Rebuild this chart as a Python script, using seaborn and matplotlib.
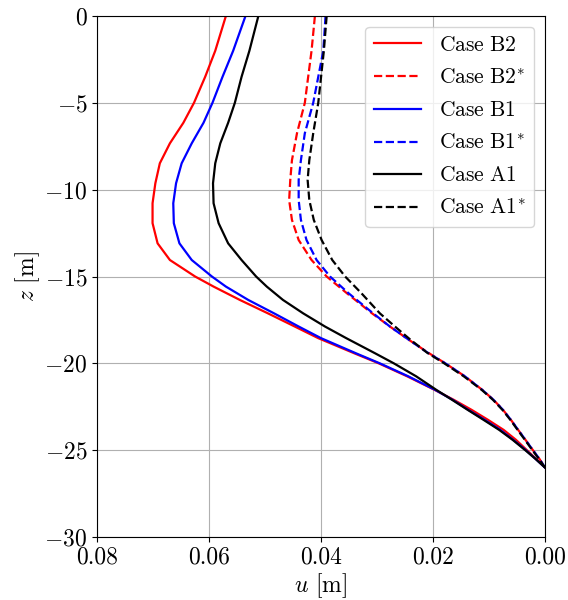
import numpy as np
import seaborn as sns
import matplotlib
matplotlib.use('Agg')
import matplotlib.pyplot as plt

# font setup (Computer Modern look)
plt.rcParams['font.family'] = 'serif'
plt.rcParams['font.serif'] = ['cmr10', 'DejaVu Serif']
plt.rcParams['mathtext.fontset'] = 'cm'
plt.rcParams['axes.formatter.use_mathtext'] = True
plt.rcParams['font.size'] = 17

# solid curves
z_solid = [0, -2, -3.5, -5, -6.15, -7.33, -8.48, -9.63, -10.78, -11.93, -13.09,
           -14.05, -15.0, -15.58, -16.35, -17.12, -17.88, -18.55, -19.43, -20.0,
           -20.75, -21.53, -22.1, -22.68, -23.25, -23.83, -24.4, -24.98, -25.5, -26]
u_b2 = [0.0570, 0.0589, 0.0607, 0.0627, 0.0646, 0.0670, 0.0688, 0.0696, 0.0701,
        0.0701, 0.0692, 0.0670, 0.0625, 0.0592, 0.0545, 0.0495, 0.0447, 0.0405,
        0.0340, 0.0297, 0.0246, 0.0197, 0.0163, 0.0131, 0.0102, 0.0074, 0.0052,
        0.0033, 0.0016, 0.0]
u_b1 = [0.0535, 0.0557, 0.0576, 0.0594, 0.0610, 0.0631, 0.0649, 0.0659, 0.0664,
        0.0663, 0.0653, 0.0631, 0.0595, 0.0570, 0.0530, 0.0484, 0.0440, 0.0400,
        0.0337, 0.0295, 0.0244, 0.0196, 0.0165, 0.0137, 0.0108, 0.0080, 0.0057,
        0.0035, 0.0017, 0.0]
u_a1 = [0.0512, 0.0528, 0.0542, 0.0554, 0.0566, 0.0580, 0.0589, 0.0593, 0.0592,
        0.0583, 0.0566, 0.0542, 0.0516, 0.0497, 0.0468, 0.0432, 0.0393, 0.0355,
        0.0303, 0.0270, 0.0230, 0.0194, 0.0166, 0.0138, 0.0110, 0.0082, 0.0058,
        0.0036, 0.0017, 0.0]

# dashed curves (starred cases)
z_dash = [0, -2, -5, -6.75, -8.3, -9.44, -10.6, -11.74, -12.9, -14.05, -15.0,
          -15.96, -17.12, -17.88, -18.65, -19.4, -20.0, -20.75, -21.53, -22.1,
          -22.68, -23.25, -23.83, -24.4, -24.98, -25.5, -26]
u_b2s = [0.0411, 0.0417, 0.0429, 0.0443, 0.0452, 0.0455, 0.0457, 0.0452, 0.0440,
         0.0417, 0.0390, 0.0354, 0.0309, 0.0277, 0.0243, 0.0208, 0.0178, 0.0143,
         0.0112, 0.0092, 0.0075, 0.0061, 0.0048, 0.0035, 0.0022, 0.0010, 0.0]
u_b1s = [0.0392, 0.0396, 0.0414, 0.0429, 0.0436, 0.0440, 0.0440, 0.0436, 0.0426,
         0.0408, 0.0384, 0.0351, 0.0307, 0.0277, 0.0243, 0.0209, 0.0178, 0.0143,
         0.0112, 0.0092, 0.0075, 0.0061, 0.0048, 0.0035, 0.0022, 0.0010, 0.0]
u_a1s = [0.0390, 0.0395, 0.0405, 0.0414, 0.0421, 0.0424, 0.0421, 0.0413, 0.0399,
         0.0380, 0.0357, 0.0328, 0.0295, 0.0268, 0.0240, 0.0210, 0.0180, 0.0145,
         0.0113, 0.0093, 0.0076, 0.0062, 0.0049, 0.0036, 0.0023, 0.0011, 0.0]

series = [
    (u_b2, z_solid, 'red', '-', r'$\mathrm{Case\ B2}$'),
    (u_b2s, z_dash, 'red', '--', r'$\mathrm{Case\ B2}^{*}$'),
    (u_b1, z_solid, 'blue', '-', r'$\mathrm{Case\ B1}$'),
    (u_b1s, z_dash, 'blue', '--', r'$\mathrm{Case\ B1}^{*}$'),
    (u_a1, z_solid, 'black', '-', r'$\mathrm{Case\ A1}$'),
    (u_a1s, z_dash, 'black', '--', r'$\mathrm{Case\ A1}^{*}$'),
]

fig, ax = plt.subplots(figsize=(5.68, 6), dpi=100)
fig.subplots_adjust(left=0.171, right=0.9595, top=0.9733, bottom=0.105)

for u, z, c, ls, lab in series:
    sns.lineplot(x=u, y=z, color=c, linestyle=ls, linewidth=1.6, label=lab,
                 sort=False, estimator=None, orient='y', ax=ax)

ax.set_xlim(0.08, 0.0)
ax.set_ylim(-30, 0)
ax.set_xticks([0.08, 0.06, 0.04, 0.02, 0.0])
ax.set_xticklabels(['0.08', '0.06', '0.04', '0.02', '0.00'])
ax.set_yticks([0, -5, -10, -15, -20, -25, -30])
ax.grid(True)
ax.set_xlabel('$u$ [m]', labelpad=2)
ax.set_ylabel('$z$ [m]', labelpad=2)
ax.legend(loc='upper right', fontsize=15.5, labelspacing=0.6, handlelength=2.2)

fig.savefig('out.png', dpi=100)
